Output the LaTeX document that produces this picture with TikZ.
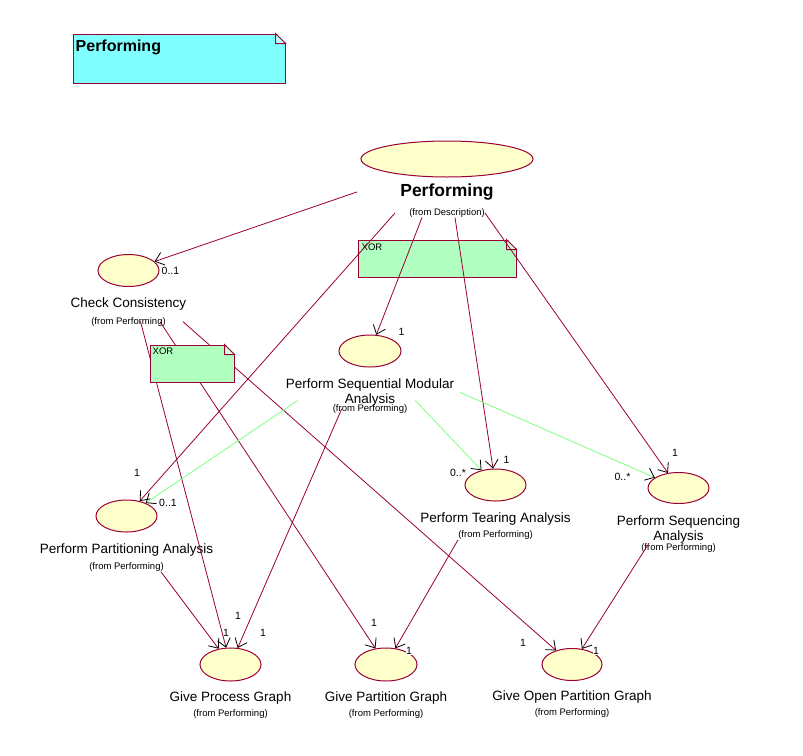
\documentclass[tikz,border=0pt]{standalone}
\usepackage{fontspec}
\setmainfont{Liberation Sans}
\usetikzlibrary{arrows.meta,positioning,shapes.geometric}
\definecolor{umlred}{HTML}{990033}
\definecolor{ucfill}{HTML}{FFFFCC}
\definecolor{notecyan}{HTML}{80FFFF}
\definecolor{notegreen}{HTML}{B0FFC0}
\definecolor{xorline}{HTML}{80FF80}
\tikzset{
  uc/.style={draw=umlred, fill=ucfill, ellipse, line width=1pt, inner sep=0pt, minimum width=61pt, minimum height=32pt},
  lbl/.style={inner sep=0pt, align=center, font=\fontsize{13.5}{15}\selectfont},
  frm/.style={inner sep=0pt, font=\fontsize{9.5}{11}\selectfont},
  mult/.style={inner sep=0pt, font=\fontsize{10.5}{12}\selectfont},
  note/.style={draw=umlred, line width=1pt, rectangle, inner sep=0pt},
  notetxt/.style={inner sep=0pt, anchor=north west},
  arr/.style={draw=umlred, line width=0.8pt, -{Straight Barb[color=black, length=8pt, width=13pt, line width=0.8pt]}},
  garr/.style={arr, draw=xorline},
}
% folded corner of a note
\newcommand{\notecorner}[2]{%
  \fill[white] ([xshift=-10pt,yshift=1pt]#1.north east) -- ([xshift=1pt,yshift=1pt]#1.north east) -- ([xshift=1pt,yshift=-10pt]#1.north east) -- cycle;
  \draw[umlred, line width=1pt, fill=#2!50!white] ([xshift=-10pt]#1.north east) -- ([yshift=-10pt]#1.north east) -- ([xshift=-10pt,yshift=-10pt]#1.north east) -- cycle;}

\begin{document}
\begin{tikzpicture}[x=1pt, y=-1pt]

\path[use as bounding box, fill=white] (0,0) rectangle (803,755);

% main use case
\node[uc, minimum width=172pt, minimum height=36pt] (perf) at (447,159) {};
\node[inner sep=0pt, font=\fontsize{17.5}{20}\selectfont\bfseries, below=6pt of perf] (perflbl) {Performing};
\node[frm, below=8pt of perflbl] (perffrm) {(from Description)};

% XOR note (under the lines)
\node[note, fill=notegreen, minimum width=158pt, minimum height=37pt] (xora) at (437,258.5) {};
\notecorner{xora}{notegreen}
\node[notetxt, font=\fontsize{9.5}{11}\selectfont, below right=4pt and 4pt of xora.north west] (xoralbl) {XOR};

% use cases
\node[uc] (cc) at (128.5,270.5) {};
\node[lbl, below=11pt of cc] (cclbl) {Check Consistency};
\node[frm, below=6pt of cclbl] (ccfrm) {(from Performing)};

\node[uc, minimum width=62pt] (psma) at (370,351) {};
\node[lbl, below=11pt of psma] (psmalbl) {Perform Sequential Modular\\Analysis};
\node[frm, below=-2pt of psmalbl] (psmafrm) {(from Performing)};

\node[uc] (tear) at (495.5,485) {};
\node[lbl, below=11pt of tear] (tearlbl) {Perform Tearing Analysis};
\node[frm, below=5pt of tearlbl] (tearfrm) {(from Performing)};

\node[uc, minimum height=31pt] (seq) at (678.5,488) {};
\node[lbl, below=12pt of seq] (seqlbl) {Perform Sequencing\\Analysis};
\node[frm, below=-1pt of seqlbl] (seqfrm) {(from Performing)};

\node[uc] (part) at (126.5,516) {};
\node[lbl, below=11pt of part] (partlbl) {Perform Partitioning Analysis};
\node[frm, below=6pt of partlbl] (partfrm) {(from Performing)};

\node[uc, minimum height=33pt] (gpg) at (230.5,664.5) {};
\node[lbl, below=10pt of gpg] (gpglbl) {Give Process Graph};
\node[frm, below=4.5pt of gpglbl] (gpgfrm) {(from Performing)};

\node[uc, minimum width=62pt, minimum height=33pt] (gpartg) at (386,664.5) {};
\node[lbl, below=10pt of gpartg] (gpartglbl) {Give Partition Graph};
\node[frm, below=4.5pt of gpartglbl] (gpartgfrm) {(from Performing)};

\node[uc, minimum width=60pt] (gopg) at (572,664.5) {};
\node[lbl, below=10pt of gopg] (gopglbl) {Give Open Partition Graph};
\node[frm, below=4.5pt of gopglbl] (gopgfrm) {(from Performing)};

% associations
\draw[arr] ([xshift=-43pt]perflbl.west) -- (cc);
\draw[arr] ([xshift=-14pt]perffrm.west) -- (part);
\draw[arr] ([xshift=-25pt]perffrm.south) -- (psma);
\draw[arr] ([xshift=8pt]perffrm.south) -- (tear);
\draw[arr] (perffrm.east) -- (seq);

\draw[arr] ([xshift=12pt]ccfrm.center) -- (gpg);
\draw[arr] ([xshift=-6pt]ccfrm.east) -- (gpartg);
\draw[arr] ([xshift=17pt]ccfrm.east) -- (gopg);

\draw[garr] ([xshift=12pt,yshift=6pt]psmalbl.south west) -- (part);
\draw[garr] ([xshift=-39pt,yshift=6pt]psmalbl.south east) -- (tear);
\draw[garr] ([xshift=6pt]psmalbl.east) -- (seq);
\draw[arr] ([xshift=9pt]psmafrm.west) -- (gpg);

\draw[arr] (tearfrm.south west) -- (gpartg);
\draw[arr] ([xshift=8pt]seqfrm.north west) -- (gopg);
\draw[arr] ([xshift=-3pt]partfrm.south east) -- (gpg);

% multiplicities
\node[mult, right=2pt of cc] (mcc) {0..1};
\node[mult] (mpsma) at (401.5,331.5) {1};
\node[mult] (mtear) at (506.5,460) {1};
\node[mult] (mtear2) at (458,472.5) {0..*};
\node[mult] (mseq) at (675,452.5) {1};
\node[mult] (mseq2) at (622.5,476.5) {0..*};
\node[mult] (mpart) at (137,473) {1};
\node[mult] (mpart2) at (168,503) {0..1};
\node[mult] (mgpg1) at (238,616) {1};
\node[mult] (mgpg2) at (226,633) {1};
\node[mult] (mgpg3) at (263,633) {1};
\node[mult] (mgpart1) at (374,623) {1};
\node[mult, fill=white] (mgpart2) at (409,651) {1};
\node[mult] (mgopg1) at (523,643) {1};
\node[mult, fill=white] (mgopg2) at (596,651) {1};

% notes on top
\node[note, fill=notegreen, minimum width=84pt, minimum height=37pt] (xorb) at (192,363.5) {};
\notecorner{xorb}{notegreen}
\node[notetxt, font=\fontsize{9.5}{11}\selectfont, below right=3pt and 3pt of xorb.north west] (xorblbl) {XOR};

\node[note, fill=notecyan, minimum width=212pt, minimum height=49pt] (pnote) at (179,58.5) {};
\notecorner{pnote}{notecyan}
\node[notetxt, font=\fontsize{16}{18}\selectfont\bfseries, below right=6pt and 3pt of pnote.north west] (pnotelbl) {Performing};

\end{tikzpicture}
\end{document}
